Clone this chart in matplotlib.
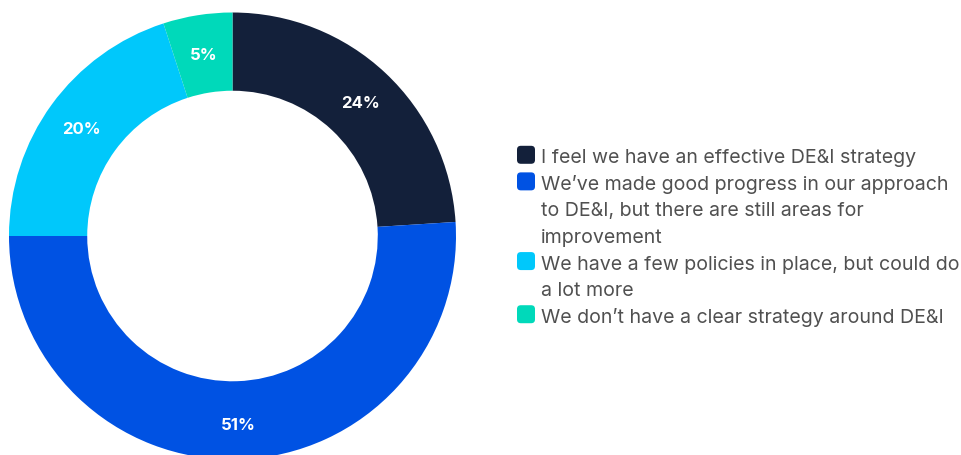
import matplotlib
matplotlib.use("Agg")
import matplotlib.pyplot as plt
from matplotlib.patches import FancyBboxPatch
import numpy as np

categories = [
    "I feel we have an effective DE&I strategy",
    "We’ve made good progress in our approach\nto DE&I, but there are still areas for\nimprovement",
    "We have a few policies in place, but could do\na lot more",
    "We don’t have a clear strategy around DE&I",
]
values = [24, 51, 20, 5]
pct_labels = ["24%", "51%", "20%", "5%"]
colors = ["#13203A", "#0052E3", "#00C8FB", "#00D9BA"]

W, H = 962, 455
fig = plt.figure(figsize=(W / 100, H / 100), dpi=100)
fig.patch.set_facecolor("white")

# pie axes: centre (232.5, 236) px from top-left, radius 223.5 px
cx, cy, R = 232.5, 236.0, 223.5
ax = fig.add_axes([(cx - R) / W, (H - cy - R) / H, 2 * R / W, 2 * R / H])
wedges, _ = ax.pie(values, colors=colors, startangle=90, counterclock=False,
                   radius=1.0, wedgeprops=dict(width=0.35, linewidth=0))
ax.set_xlim(-1, 1)
ax.set_ylim(-1, 1)
ax.set_aspect("equal")
ax.axis("off")

cum = np.cumsum([0] + values[:-1])
for v, c0, lab in zip(values, cum, pct_labels):
    ang = np.deg2rad(90 - (c0 + v / 2) / sum(values) * 360)
    r = 0.835
    ax.text(r * np.cos(ang), r * np.sin(ang) - 0.015, lab, ha="center", va="center",
            color="white", fontsize=12, fontweight="bold", family="Inter")

# legend (manual, handle aligned to first line)
x_handle, x_text = 517, 541
base0, pitch = 163.3, 26.57
line = 0
for lab, col in zip(categories, colors):
    lines = lab.split("\n")
    b = base0 + line * pitch
    sq = 18
    fig.patches.append(FancyBboxPatch(
        (x_handle / W, (H - b - 0.5) / H), sq / W, sq / H,
        boxstyle="round,pad=0,rounding_size=0.004",
        transform=fig.transFigure, facecolor=col, edgecolor="none",
        mutation_aspect=W / H))
    for i, t in enumerate(lines):
        yb = base0 + (line + i) * pitch
        fig.text(x_text / W, (H - yb) / H, t, ha="left", va="baseline",
                 fontsize=14.1, color="#505050", family="Inter")
    line += len(lines)

fig.savefig("out.png", dpi=100, facecolor="white")
